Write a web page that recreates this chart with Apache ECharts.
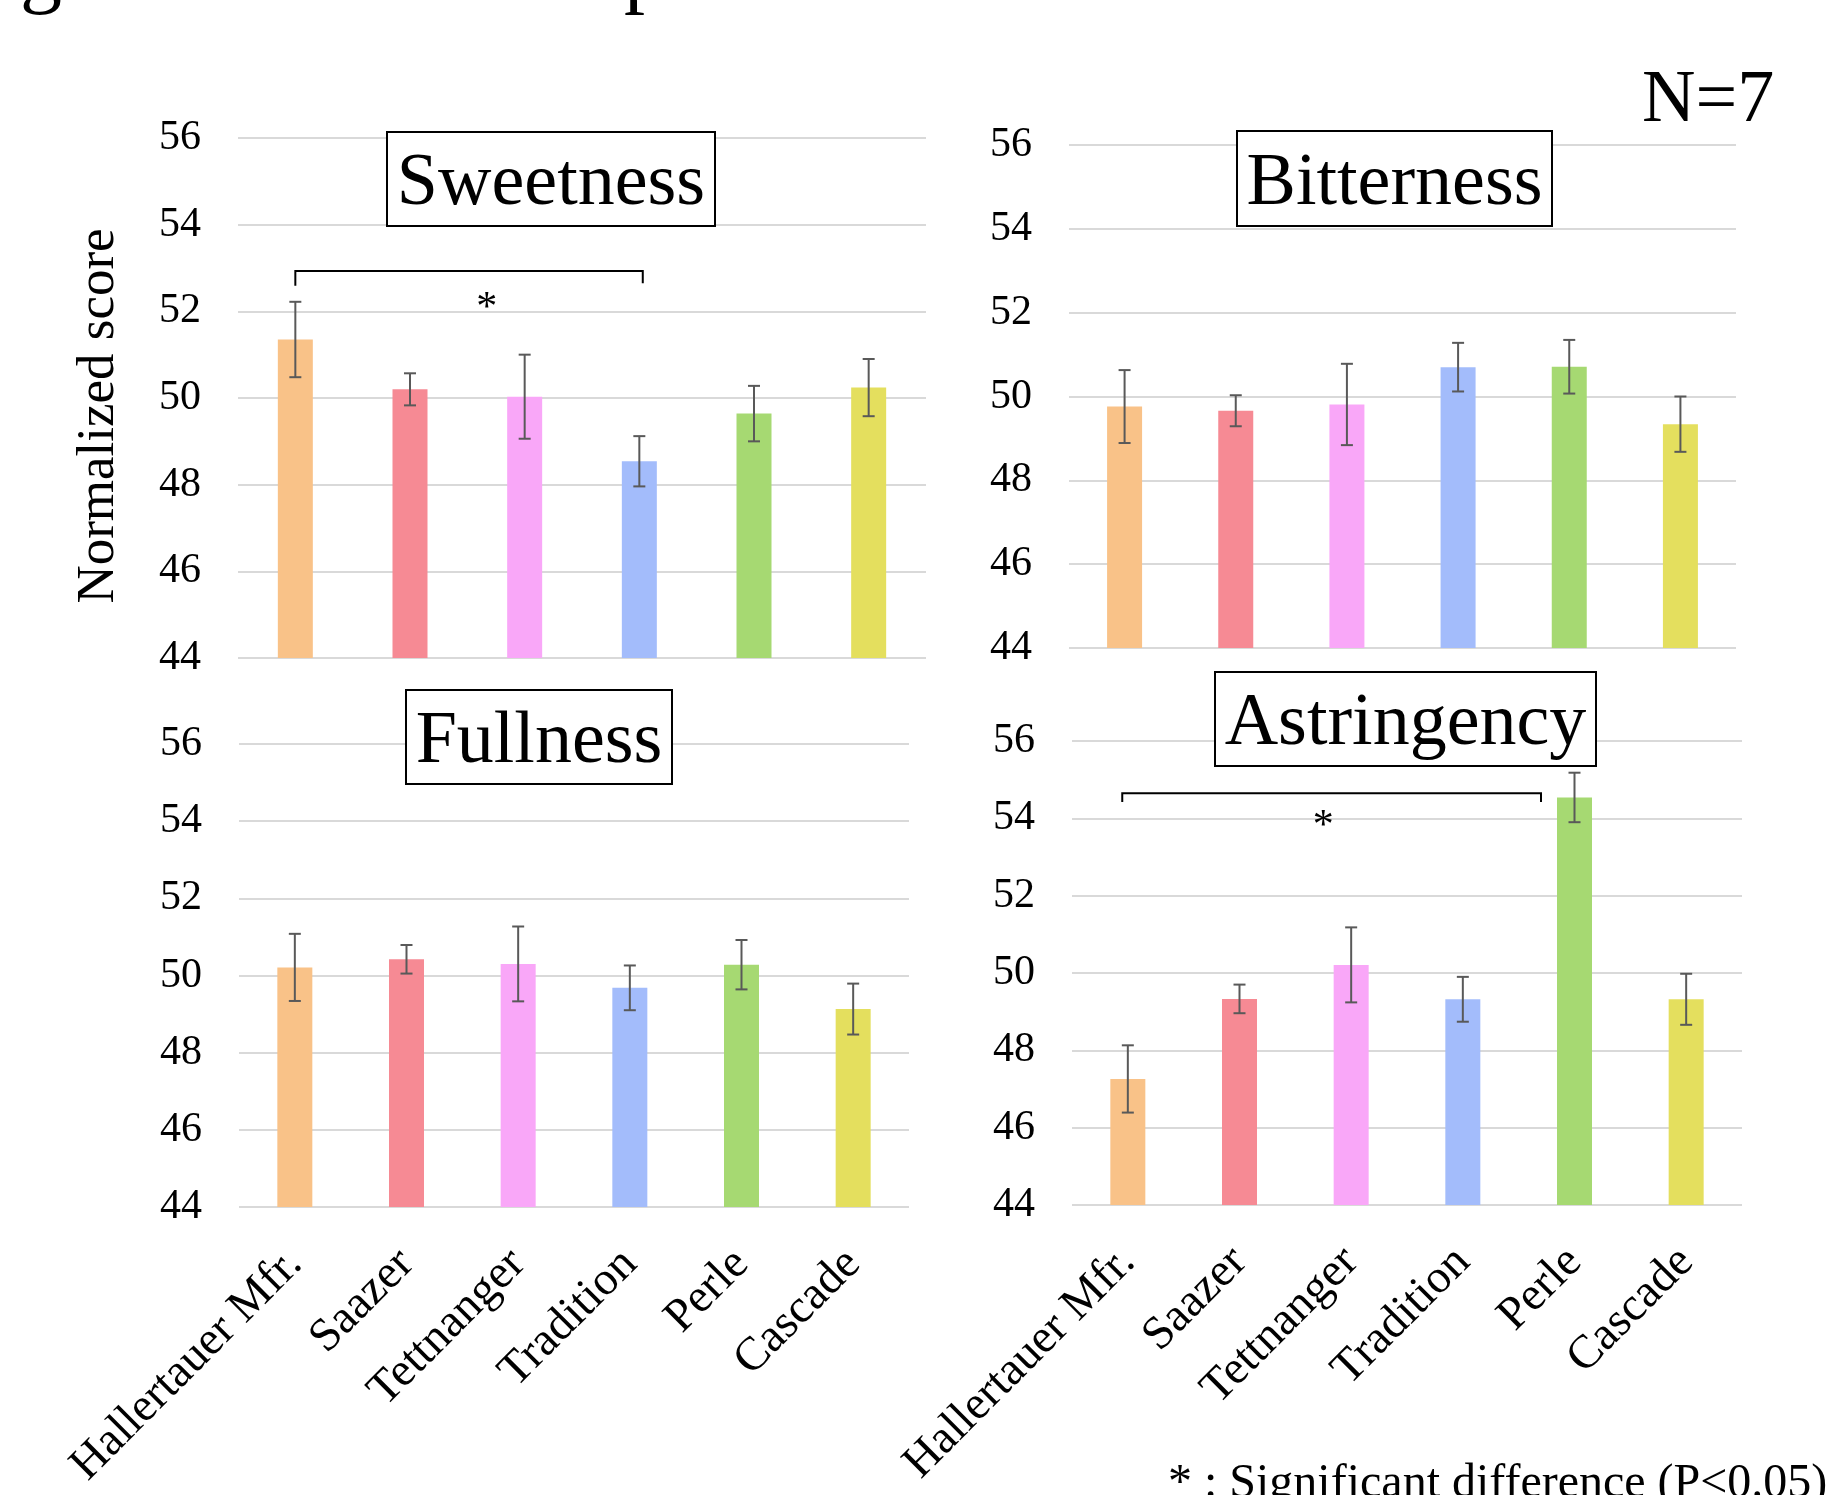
<!DOCTYPE html>
<html><head><meta charset="utf-8">
<script src="https://cdn.jsdelivr.net/npm/echarts@6/dist/echarts.min.js"></script>
<style>html,body{margin:0;padding:0;background:#fff}#c{width:1833px;height:1495px}</style>
</head><body><div id="c"></div>
<script>
// ---------- data ----------
const categories = ['Hallertauer Mfr.', 'Saazer', 'Tettnanger', 'Tradition', 'Perle', 'Cascade'];
const barColors = ['#F9C288', '#F68A94', '#F9A7F8', '#A3BCFB', '#A6D972', '#E4DF5E'];
const yMin = 44, yMax = 56, yStep = 2;

const sweetness      = [51.35, 50.20, 50.03, 48.54, 49.64, 50.24];
const sweetnessErr   = [0.87, 0.37, 0.97, 0.58, 0.64, 0.66];
const bitterness     = [49.76, 49.66, 49.81, 50.70, 50.71, 49.34];
const bitternessErr  = [0.87, 0.37, 0.97, 0.58, 0.64, 0.66];
const fullness       = [50.21, 50.42, 50.30, 49.68, 50.28, 49.13];
const fullnessErr    = [0.87, 0.37, 0.97, 0.58, 0.64, 0.66];
const astringency    = [47.26, 49.33, 50.21, 49.32, 54.54, 49.32];
const astringencyErr = [0.87, 0.37, 0.97, 0.58, 0.64, 0.66];

// significance brackets (category index span, heights in score units)
const sweetnessSig   = {from: 0, to: 3.03, top: 52.93, legL: 52.59, legR: 52.65, starX: 1.67, starY: 52.20};
const astringencySig = {from: -0.05, to: 3.70, top: 54.65, legL: 54.42, legR: 54.42, starX: 1.75, starY: 53.93};

const panelTitles = ['Sweetness', 'Bitterness', 'Fullness', 'Astringency'];
const yAxisTitle = 'Normalized score';
const sampleSize = 'N=7';
const footnote = '* : Significant difference (P<0.05)';

// ---------- layout ----------
const SERIF = '"Liberation Serif", "Times New Roman", serif';
const panels = [
  {title: panelTitles[0], vals: sweetness,   errs: sweetnessErr,   sig: sweetnessSig,   labels: false,
   grid: {left: 238, top: 138, width: 688, height: 520}, box: {x: 387, y: 132, w: 328, h: 94}},
  {title: panelTitles[1], vals: bitterness,  errs: bitternessErr,  sig: null,          labels: false,
   grid: {left: 1069, top: 145, width: 667, height: 503}, box: {x: 1237, y: 131, w: 315, h: 95}},
  {title: panelTitles[2], vals: fullness,    errs: fullnessErr,    sig: null,          labels: true,
   grid: {left: 239, top: 744, width: 670, height: 463}, box: {x: 406, y: 690, w: 266, h: 94}},
  {title: panelTitles[3], vals: astringency, errs: astringencyErr, sig: astringencySig, labels: true,
   grid: {left: 1072, top: 741, width: 670, height: 464}, box: {x: 1215, y: 672, w: 381, h: 94}}
];

const grids = [], xAxes = [], yAxes = [], series = [], graphics = [];

function xAt(api, f) {
  const c0 = api.coord([0, yMin])[0];
  const bw = api.size([1, 0])[0];
  return c0 + f * bw;
}

panels.forEach((p, gi) => {
  grids.push(Object.assign({containLabel: false}, p.grid));
  xAxes.push({
    type: 'category', gridIndex: gi, data: categories,
    axisLine: {show: false}, axisTick: {show: false},
    axisLabel: {show: p.labels, interval: 0, rotate: 45, margin: 50,
      fontFamily: SERIF, fontSize: 47, color: '#000'}
  });
  yAxes.push({
    type: 'value', gridIndex: gi, min: yMin, max: yMax, interval: yStep,
    axisLine: {show: false}, axisTick: {show: false},
    axisLabel: {margin: 37, fontFamily: SERIF, fontSize: 42, color: '#000'},
    splitLine: {lineStyle: {color: '#d9d9d9', width: 2}}
  });
  series.push({
    type: 'bar', xAxisIndex: gi, yAxisIndex: gi, barWidth: 35, data: p.vals,
    itemStyle: {color: (params) => barColors[params.dataIndex]},
    emphasis: {disabled: true}, animation: false
  });
  const errs = p.errs;
  series.push({
    type: 'custom', xAxisIndex: gi, yAxisIndex: gi, z: 5, animation: false,
    data: p.vals.map((v, i) => [i, v - errs[i], v + errs[i]]),
    renderItem(params, api) {
      const x = api.value(0);
      const lo = api.coord([x, api.value(1)]);
      const hi = api.coord([x, api.value(2)]);
      const cw = 6;
      const st = {stroke: '#595959', lineWidth: 2};
      return {type: 'group', children: [
        {type: 'line', shape: {x1: lo[0], y1: lo[1], x2: hi[0], y2: hi[1]}, style: st},
        {type: 'line', shape: {x1: lo[0] - cw, y1: lo[1], x2: lo[0] + cw, y2: lo[1]}, style: st},
        {type: 'line', shape: {x1: hi[0] - cw, y1: hi[1], x2: hi[0] + cw, y2: hi[1]}, style: st}
      ]};
    }
  });
  if (p.sig) {
    const s = p.sig;
    series.push({
      type: 'custom', xAxisIndex: gi, yAxisIndex: gi, z: 6, animation: false,
      data: [[s.from, s.to, s.top, s.legL, s.legR, s.starX, s.starY]],
      renderItem(params, api) {
        const x1 = xAt(api, api.value(0)), x2 = xAt(api, api.value(1));
        const yt = api.coord([0, api.value(2)])[1];
        const yl = api.coord([0, api.value(3)])[1];
        const yr = api.coord([0, api.value(4)])[1];
        const sx = xAt(api, api.value(5));
        const sy = api.coord([0, api.value(6)])[1];
        return {type: 'group', children: [
          {type: 'polyline', shape: {points: [[x1, yl], [x1, yt], [x2, yt], [x2, yr]]},
           style: {stroke: '#000', lineWidth: 2, fill: null}},
          {type: 'text', x: sx, y: sy + 6,
           style: {text: '*', font: '42px ' + SERIF, align: 'center', verticalAlign: 'middle', fill: '#000'}}
        ]};
      }
    });
  }
  const b = p.box;
  graphics.push({type: 'rect', shape: {x: b.x, y: b.y, width: b.w, height: b.h},
    style: {fill: '#fff', stroke: '#000', lineWidth: 2}, z: 10});
  graphics.push({type: 'text', x: b.x + b.w / 2, y: b.y + b.h / 2 + 6, z: 11,
    style: {text: p.title, font: '74px ' + SERIF, align: 'center', verticalAlign: 'middle', fill: '#000'}});
});

graphics.push({type: 'text', x: 99, y: 416, rotation: Math.PI / 2,
  style: {text: yAxisTitle, font: '53px ' + SERIF, align: 'center', verticalAlign: 'middle', fill: '#000'}});
graphics.push({type: 'text', x: 1642, y: 102,
  style: {text: sampleSize, font: '74px ' + SERIF, align: 'left', verticalAlign: 'middle', fill: '#000'}});
graphics.push({type: 'text', x: 1168, y: 1484,
  style: {text: footnote, font: '48px ' + SERIF, align: 'left', verticalAlign: 'middle', fill: '#000'}});
// descenders of a heading line that lies above the visible area
graphics.push({type: 'text', x: 20, y: -25,
  style: {text: 'g', font: '84px ' + SERIF, align: 'left', verticalAlign: 'middle', fill: '#000'}});
graphics.push({type: 'text', x: 624, y: -25,
  style: {text: 'p', font: '84px ' + SERIF, align: 'left', verticalAlign: 'middle', fill: '#000'}});

const chart = echarts.init(document.getElementById('c'), null, {renderer: 'canvas'});
chart.setOption({
  backgroundColor: '#fff',
  animation: false,
  grid: grids, xAxis: xAxes, yAxis: yAxes, series: series, graphic: graphics
});
</script></body></html>
